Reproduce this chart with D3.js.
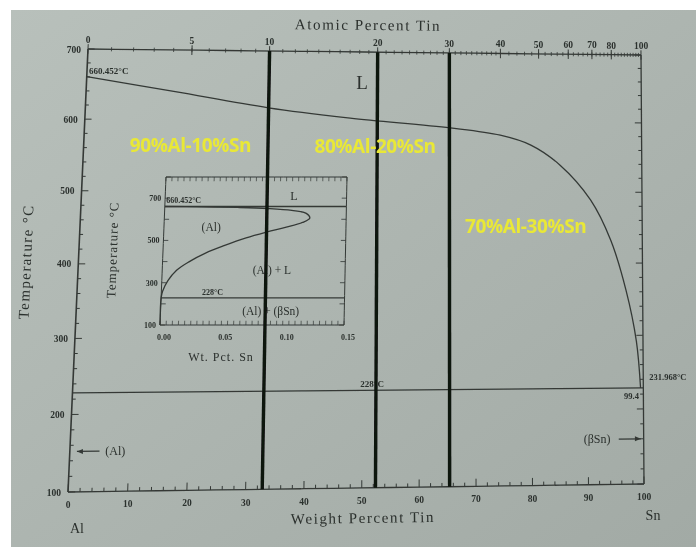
<!DOCTYPE html>
<html>
<head>
<meta charset="utf-8">
<script src="https://cdn.jsdelivr.net/npm/d3@7"></script>
<style>
body { margin: 0; background: #fff; }
svg { display: block; }
text { font-family: "Liberation Serif", "DejaVu Serif", serif; fill: #2b302d; }
.yel { font-family: "Open Sans", "Liberation Sans", sans-serif; font-weight: 700; fill: #e9e836; }
</style>
</head>
<body>
<svg id="chart" width="696" height="547"></svg>
<script>
// ---- main diagram data ----
var wtTicks = [0, 10, 20, 30, 40, 50, 60, 70, 80, 90, 100];
var tempTicks = [100, 200, 300, 400, 500, 600, 700];
var atTicks = [0, 5, 10, 20, 30, 40, 50, 60, 70, 80, 100];
var liqWt = [0, 16, 32.8, 47.5, 65.5, 74.5, 80, 85.3, 90.7, 94.3, 97, 98.8, 99.5];
var liqT = [660.45, 640, 618, 604, 591, 581, 567, 538, 489, 432, 362, 292, 228.3];
var eutT = 228.3;
var alloyAt = [10, 20, 30];
var alloyNames = ["90%Al-10%Sn", "80%Al-20%Sn", "70%Al-30%Sn"];

// ---- inset data ----
var inWtTicks = [0, 0.05, 0.10, 0.15];
var inTTicks = [100, 300, 500, 700];
var solWt = [0, 0.03, 0.06, 0.085, 0.105, 0.117, 0.120, 0.114, 0.100, 0.085, 0.068, 0.050, 0.035, 0.022, 0.012, 0.005, 0.001, 0, 0];
var solT = [660.45, 659, 656, 651, 642, 628, 605, 585, 562, 540, 512, 475, 440, 400, 360, 310, 260, 228.3, 100];

var W = 696, H = 547;
var svg = d3.select("#chart");
var defs = svg.append("defs");
var grad = defs.append("linearGradient").attr("id", "paper")
  .attr("x1", 0).attr("y1", 0).attr("x2", 1).attr("y2", 1);
grad.append("stop").attr("offset", "0%").attr("stop-color", "#b8c0bb");
grad.append("stop").attr("offset", "100%").attr("stop-color", "#a2aaa5");
defs.append("filter").attr("id", "soft")
  .append("feGaussianBlur").attr("stdDeviation", 0.45);

svg.append("rect").attr("width", W).attr("height", H).attr("fill", "#fff");
svg.append("rect").attr("x", 11).attr("y", 10).attr("width", W - 11).attr("height", H - 10)
  .attr("fill", "url(#paper)");

// the page is photographed at an angle, so map the unit square onto a skewed quad
function quad(tl, tr, bl, br, ku, kv) {
  return function(u, v) {
    var uu = u + ku * v * u * (1 - u);
    var vv = v - kv * v * (1 - v);
    return [
      (1 - uu) * (1 - vv) * tl[0] + uu * (1 - vv) * tr[0] + (1 - uu) * vv * bl[0] + uu * vv * br[0],
      (1 - uu) * (1 - vv) * tl[1] + uu * (1 - vv) * tr[1] + (1 - uu) * vv * bl[1] + uu * vv * br[1]
    ];
  };
}

var x = d3.scaleLinear().domain([0, 100]).range([0, 1]);
var y = d3.scaleLinear().domain([100, 700]).range([1, 0]);
var warp = quad([88, 49], [641, 55], [68, 492], [644, 484], 0.04, 0.06);
function P(w, t) { return warp(x(w), y(t)); }

var ix = d3.scaleLinear().domain([0, 0.15]).range([0, 1]);
var iy = d3.scaleLinear().domain([100, 800]).range([1, 0]);
var iwarp = quad([166, 177], [347, 177], [160, 325], [344, 325], 0, 0);
function IP(w, t) { return iwarp(ix(w), iy(t)); }

function atToWt(a) {
  var sn = a * 118.71, al = (100 - a) * 26.98;
  return 100 * sn / (sn + al);
}

function seg(proj, w0, t0, w1, t1) {
  var pts = [];
  for (var i = 0; i <= 20; i++) {
    pts.push(proj(w0 + (w1 - w0) * i / 20, t0 + (t1 - t0) * i / 20));
  }
  return pts;
}

var line = d3.line();
var curve = d3.line().curve(d3.curveCatmullRom);
var g = svg.append("g").attr("filter", "url(#soft)");
var ink = "#343936";

function stroke(pts, w, c) {
  g.append("path").attr("d", line(pts)).attr("fill", "none")
    .attr("stroke", c || ink).attr("stroke-width", w || 1.3);
}

// frame
stroke(seg(P, 0, 700, 100, 700));
stroke(seg(P, 0, 100, 100, 100));
stroke(seg(P, 0, 100, 0, 700), 1.6);
stroke(seg(P, 100, 100, 100, 700));

// left / right temperature ticks
d3.range(100, 701, 20).forEach(function(t) {
  var len = t % 100 === 0 ? 0.012 : 0.006;
  stroke([P(0, t), P(len * 100, t)], 1);
  stroke([P(100, t), P(100 - len * 100, t)], 1);
});
tempTicks.forEach(function(t) {
  var p = P(0, t);
  g.append("text").attr("x", p[0] - 7).attr("y", p[1] + 3.5)
    .attr("text-anchor", "end").attr("font-size", 9.5).attr("font-weight", 700).text(t);
});

// bottom weight ticks
d3.range(0, 101, 2).forEach(function(w) {
  var dt = w % 10 === 0 ? 10 : 5;
  stroke([P(w, 100), P(w, 100 + dt)], 1);
});
wtTicks.forEach(function(w) {
  var p = P(w, 100);
  g.append("text").attr("x", p[0]).attr("y", p[1] + 16)
    .attr("text-anchor", "middle").attr("font-size", 9.5).attr("font-weight", 700).text(w);
});

// top atomic-percent ticks
var atMinor = d3.range(1, 40).concat(d3.range(42, 100, 2));
atMinor.forEach(function(a) {
  var w = atToWt(a);
  stroke([P(w, 700 - 3), P(w, 700 + 3)], 0.8);
});
atTicks.forEach(function(a) {
  var w = atToWt(a);
  stroke([P(w, 700 - 7), P(w, 700 + 7)], 1);
  var p = P(w, 700);
  g.append("text").attr("x", p[0]).attr("y", p[1] - 6)
    .attr("text-anchor", "middle").attr("font-size", 9.5).attr("font-weight", 700).text(a);
});

// axis titles
g.append("text").attr("x", 368).attr("y", 30).attr("text-anchor", "middle")
  .attr("font-size", 15).attr("letter-spacing", 1.6).attr("transform", "rotate(0.6 368 30)")
  .text("Atomic Percent Tin");
g.append("text").attr("x", 363).attr("y", 523).attr("text-anchor", "middle")
  .attr("font-size", 15).attr("letter-spacing", 1.6).attr("transform", "rotate(-0.8 363 523)")
  .text("Weight Percent Tin");
g.append("text").attr("transform", "translate(31,262) rotate(-87.4)").attr("text-anchor", "middle")
  .attr("font-size", 15).attr("letter-spacing", 1.4).text("Temperature °C");
g.append("text").attr("x", 77).attr("y", 533).attr("text-anchor", "middle").attr("font-size", 14).text("Al");
g.append("text").attr("x", 653).attr("y", 520).attr("text-anchor", "middle").attr("font-size", 14).text("Sn");

// liquidus and eutectic
var liqPts = liqWt.map(function(w, i) { return P(w, liqT[i]); });
g.append("path").attr("d", curve(liqPts)).attr("fill", "none").attr("stroke", ink).attr("stroke-width", 1.3);
stroke(seg(P, 0, eutT, 100, eutT));

// main labels
function label(p, txt, size, anchor, weight) {
  return g.append("text").attr("x", p[0]).attr("y", p[1]).attr("font-size", size)
    .attr("text-anchor", anchor || "middle").attr("font-weight", weight || 400).text(txt);
}
label(P(0.4, 664), "660.452°C", 9, "start", 700);
label(P(49.6, 646), "L", 19);
label(P(51.7, 232), "228°C", 9, "middle", 700);
label(P(99.2, 214), "99.4", 8.5, "end", 700);
var pSn = P(100, 239);
label([pSn[0] + 6, pSn[1]], "231.968°C", 8.5, "start", 700);

// phase arrows
var a0 = P(1.2, 152), a1 = P(5, 152);
stroke([a0, a1], 1.3);
g.append("path").attr("d", "M" + a0[0] + "," + a0[1] + "l6,-2.5l0,5z").attr("fill", ink);
label(P(6, 147), "(Al)", 12, "start");
var b0 = P(95.5, 160), b1 = P(99.5, 160);
stroke([b0, b1], 1.3);
g.append("path").attr("d", "M" + b1[0] + "," + b1[1] + "l-6,-2.5l0,5z").attr("fill", ink);
label(P(94, 155), "(βSn)", 12, "end");

// ---- inset ----
stroke(seg(IP, 0, 800, 0.15, 800), 1);
stroke(seg(IP, 0, 100, 0.15, 100), 1);
stroke(seg(IP, 0, 100, 0, 800), 1);
stroke(seg(IP, 0.15, 100, 0.15, 800), 1);
d3.range(0, 0.1501, 0.005).forEach(function(w) {
  stroke([IP(w, 800), IP(w, 780)], 0.7);
  stroke([IP(w, 100), IP(w, 120)], 0.7);
});
d3.range(100, 801, 100).forEach(function(t) {
  stroke([IP(0, t), IP(0.004, t)], 0.8);
  stroke([IP(0.15, t), IP(0.146, t)], 0.8);
});
inTTicks.forEach(function(t) {
  var p = IP(0, t);
  g.append("text").attr("x", p[0] - 4).attr("y", p[1] + 3)
    .attr("text-anchor", "end").attr("font-size", 8).attr("font-weight", 700).text(t);
});
inWtTicks.forEach(function(w) {
  var p = IP(w, 100);
  g.append("text").attr("x", p[0] + 4).attr("y", p[1] + 15)
    .attr("text-anchor", "middle").attr("font-size", 8).attr("font-weight", 700).text(w.toFixed(2));
});
stroke(seg(IP, 0, 660.45, 0.15, 660.45), 1.3);
stroke(seg(IP, 0, eutT, 0.15, eutT), 1.3);
var solPts = solWt.map(function(w, i) { return IP(w, solT[i]); });
g.append("path").attr("d", curve(solPts)).attr("fill", "none").attr("stroke", ink).attr("stroke-width", 1.3);

function ilabel(w, t, txt, size, anchor, weight) {
  label(IP(w, t), txt, size, anchor, weight);
}
ilabel(0.001, 678, "660.452°C", 8, "start", 700);
ilabel(0.1065, 690, "L", 12);
ilabel(0.039, 545, "(Al)", 11.5);
ilabel(0.09, 341, "(Al) + L", 11.5);
ilabel(0.042, 242, "228°C", 8, "middle", 700);
ilabel(0.09, 147, "(Al) + (βSn)", 11.5);
g.append("text").attr("x", 221).attr("y", 361).attr("text-anchor", "middle")
  .attr("font-size", 12).attr("letter-spacing", 1).text("Wt. Pct. Sn");
g.append("text").attr("transform", "translate(117,250) rotate(-88)").attr("text-anchor", "middle")
  .attr("font-size", 13).attr("letter-spacing", 1).text("Temperature °C");

// ---- hand drawn alloy lines + yellow labels ----
alloyAt.forEach(function(a) {
  var w = atToWt(a);
  stroke([P(w, 700), P(w, 100)], 3.4, "#101211");
});
var namePos = [[19, 564], [52, 564], [79, 452]];
alloyNames.forEach(function(n, i) {
  var p = P(namePos[i][0], namePos[i][1]);
  svg.append("text").attr("class", "yel").attr("x", p[0]).attr("y", p[1] + 7)
    .attr("text-anchor", "middle").attr("font-size", 19).attr("letter-spacing", -0.4).text(n);
});
</script>
</body>
</html>
